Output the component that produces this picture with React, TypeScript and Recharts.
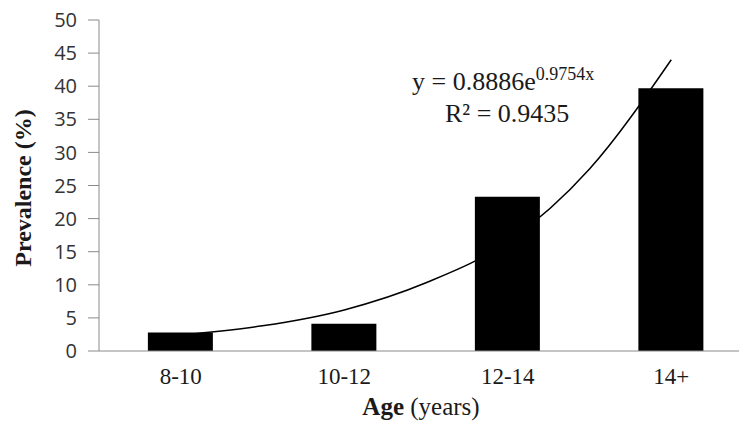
import React from "react";
import {
  ComposedChart,
  Bar,
  Line,
  XAxis,
  YAxis,
  Customized,
} from "recharts";

const ageGroups = ["8-10", "10-12", "12-14", "14+"];
const prevalence = [2.8, 4.1, 23.3, 39.7];
// exponential trend line at half steps
const trendX = [1, 1.5, 2, 2.5, 3, 3.5, 4];
const trendY = [2.4, 3.8, 6.2, 10.3, 16.5, 27.5, 44];
const yTicks = [0, 5, 10, 15, 20, 25, 30, 35, 40, 45, 50];

const data = trendX.map((x, i) => {
  const idx = Number.isInteger(x) ? x - 1 : -1;
  return {
    x,
    prevalence: idx >= 0 ? prevalence[idx] : null,
    trend: trendY[i],
  };
});

const serif = "'Liberation Serif', 'Times New Roman', serif";

const Texts = () => (
  <g fill="#1a1a1a" fontFamily={serif}>
    <text
      x={23}
      y={188}
      transform="rotate(-90, 23, 188)"
      textAnchor="middle"
      dominantBaseline="central"
      fontSize={24}
      fontWeight="bold"
    >
      Prevalence (%)
    </text>
    <text x={421} y={415} textAnchor="middle" fontSize={25}>
      <tspan fontWeight="bold">Age</tspan> (years)
    </text>
    <text x={412} y={90} fontSize={26}>
      y = 0.8886e
      <tspan dy={-10} fontSize={18}>
        0.9754x
      </tspan>
    </text>
    <text x={445} y={122} fontSize={26}>
      R² = 0.9435
    </text>
  </g>
);

export default function App() {
  return (
    <div style={{ width: 747, height: 428, overflow: "hidden", margin: "-8px 0 0 -8px" }}>
      <ComposedChart
        width={766}
        height={428}
        data={data}
        margin={{ top: 20, right: 13, left: 8, bottom: 0 }}
      >
        <XAxis
          dataKey="x"
          type="number"
          domain={[0.5, 4.5]}
          ticks={[1, 2, 3, 4]}
          tickFormatter={(v) => ageGroups[v - 1]}
          allowDataOverflow
          height={77}
          tickLine={false}
          tickSize={0}
          tickMargin={17}
          stroke="#8a8a8a"
          tick={{ fill: "#1a1a1a", fontSize: 23, fontFamily: serif }}
        />
        <YAxis
          domain={[0, 50]}
          ticks={yTicks}
          width={91}
          tickSize={11}
          tickMargin={11}
          stroke="#8a8a8a"
          tick={{ fill: "#333", fontSize: 20, fontFamily: "'Open Sans', sans-serif" }}
        />
        <Line
          dataKey="trend"
          type="monotone"
          stroke="#000"
          strokeWidth={1.5}
          dot={false}
          isAnimationActive={false}
        />
        <Bar dataKey="prevalence" fill="#000" barSize={65} isAnimationActive={false} />
        <Customized component={Texts} />
      </ComposedChart>
    </div>
  );
}
